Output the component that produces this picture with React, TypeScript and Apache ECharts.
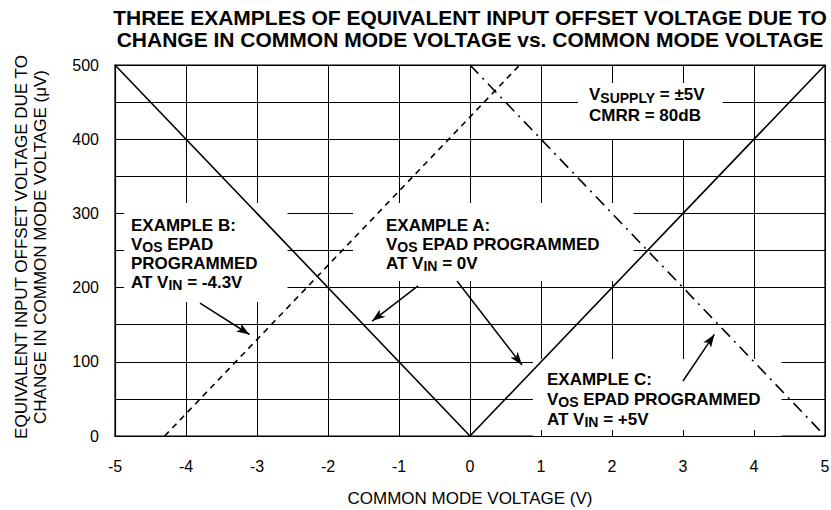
import React, { useEffect, useRef } from "react";
import * as echarts from "echarts";

// ---- data ----
const xMin = -5;
const xMax = 5;
const yMin = 0;
const yMax = 500;
const yLabelValues = [0, 100, 200, 300, 400, 500];

// Example A: EPAD programmed at VIN = 0V
const exampleA = [
  [-5, 500],
  [0, 0],
  [5, 500],
];
// Example B: EPAD programmed at VIN = -4.3V
const exampleB = [
  [-4.3, 0],
  [0.7, 500],
];
// Example C: EPAD programmed at VIN = +5V
const exampleC = [
  [0, 500],
  [5, 0],
];

// annotation arrows [x1, y1, x2, y2] in data units
const arrows = [
  [-3.803, 179.2, -3.106, 136.8],
  [-0.732, 202.2, -1.378, 154.9],
  [-0.183, 208.9, 0.732, 95.8],
  [3.0, 74.1, 3.442, 136.9],
];

const titleText =
  "THREE EXAMPLES OF EQUIVALENT INPUT OFFSET VOLTAGE DUE TO\nCHANGE IN COMMON MODE VOLTAGE vs. COMMON MODE VOLTAGE";
const xName = "COMMON MODE VOLTAGE (V)";
const yName =
  "EQUIVALENT INPUT OFFSET VOLTAGE DUE TO\nCHANGE IN COMMON MODE VOLTAGE (\u03bcV)";

const FONT = "'Liberation Sans', Arial, Helvetica, sans-serif";

function richStyle(lh: number) {
  return {
    b: { fontSize: 17, fontWeight: "bold", fontFamily: FONT, fill: "#000", lineHeight: lh },
    s: {
      fontSize: 14,
      fontWeight: "bold",
      fontFamily: FONT,
      fill: "#000",
      lineHeight: 11,
      verticalAlign: "bottom",
    },
  };
}

export default function App() {
  const ref = useRef<HTMLDivElement>(null);

  useEffect(() => {
    if (!ref.current) return;
    const chart = echarts.init(ref.current, null, { renderer: "svg" });

    const lineSeries = (name: string, data: number[][], type: any, extra: any = {}) => ({
      name,
      type: "line",
      data,
      symbol: "none",
      xAxisIndex: 0,
      yAxisIndex: 0,
      z: 2,
      silent: true,
      lineStyle: { color: "#000", width: 1.6, type },
      ...extra,
    });

    const option: any = {
      animation: false,
      grid: {
        left: 115,
        right: 6,
        top: 65,
        bottom: 74,
        show: true,
        borderColor: "#000",
        borderWidth: 1.2,
        backgroundColor: "transparent",
        outerBoundsMode: "none",
      },
      xAxis: [
        {
          type: "value",
          min: xMin,
          max: xMax,
          interval: 1,
          position: "bottom",
          z: 0,
          axisLine: { show: false },
          axisTick: { show: false },
          axisLabel: { color: "#000", fontSize: 16, fontFamily: FONT, margin: 22 },
          splitLine: { show: true, lineStyle: { color: "#000", width: 1 } },
        },
        {
          type: "value",
          min: xMin,
          max: xMax,
          interval: 1,
          position: "bottom",
          z: 10,
          axisLine: { show: true, onZero: false, lineStyle: { color: "#000", width: 1.2 } },
          axisTick: { show: true, inside: true, length: 6, lineStyle: { color: "#000", width: 1 } },
          axisLabel: { show: false },
          splitLine: { show: false },
        },
      ],
      yAxis: [
        {
          type: "value",
          min: yMin,
          max: yMax,
          interval: 50,
          position: "left",
          z: 0,
          axisLine: { show: false },
          axisTick: { show: false },
          axisLabel: {
            color: "#000",
            fontSize: 16,
            fontFamily: FONT,
            margin: 16,
            formatter: (v: number) => (yLabelValues.indexOf(v) >= 0 ? String(v) : ""),
          },
          splitLine: { show: true, lineStyle: { color: "#000", width: 1 } },
        },
        {
          type: "value",
          min: yMin,
          max: yMax,
          interval: 50,
          position: "left",
          z: 10,
          axisLine: { show: true, onZero: false, lineStyle: { color: "#000", width: 1.2 } },
          axisTick: { show: true, inside: true, length: 9, lineStyle: { color: "#000", width: 1 } },
          axisLabel: { show: false },
          splitLine: { show: false },
        },
      ],
      series: [
        lineSeries("Example A", exampleA, "solid", {
          markLine: {
            silent: true,
            symbol: ["none", "arrow"],
            symbolSize: [7, 13],
            label: { show: false },
            lineStyle: { color: "#000", width: 1.5, type: "solid" },
            emphasis: { disabled: true },
            data: arrows.map((a) => [{ coord: [a[0], a[1]] }, { coord: [a[2], a[3]] }]),
          },
        }),
        lineSeries("Example B", exampleB, [6, 5]),
        lineSeries("Example C", exampleC, [12, 6, 2, 6]),
      ],
      graphic: [
        {
          type: "text",
          x: 470,
          y: 28.75,
          z: 1,
          style: {
            text: titleText,
            fontSize: 21,
            fontWeight: "bold",
            fontFamily: FONT,
            fill: "#000",
            align: "center",
            verticalAlign: "middle",
            lineHeight: 22,
          },
        },
        {
          type: "text",
          x: 470,
          y: 498,
          z: 1,
          style: {
            text: xName,
            fontSize: 17,
            fontFamily: FONT,
            fill: "#000",
            align: "center",
            verticalAlign: "middle",
          },
        },
        {
          type: "text",
          x: 30.5,
          y: 247,
          rotation: Math.PI / 2,
          z: 1,
          style: {
            text: yName,
            fontSize: 17,
            fontFamily: FONT,
            fill: "#000",
            align: "center",
            verticalAlign: "middle",
            lineHeight: 19,
          },
        },
        {
          type: "text",
          x: 578,
          y: 83,
          z: 1,
          style: {
            text: "{b|V}{s|SUPPLY}{b| = \u00b15V}\n{b|CMRR = 80dB}",
            rich: richStyle(21),
            backgroundColor: "#fff",
            padding: [1, 18, 13, 11],
            align: "left",
            verticalAlign: "top",
          },
        },
        {
          type: "text",
          x: 123,
          y: 203,
          z: 1,
          style: {
            text: "{b|EXAMPLE B:}\n{b|V}{s|OS}{b| EPAD}\n{b|PROGRAMMED}\n{b|AT V}{s|IN}{b| = -4.3V}",
            rich: richStyle(19),
            backgroundColor: "#fff",
            padding: [13, 30, 10, 8],
            align: "left",
            verticalAlign: "top",
          },
        },
        {
          type: "text",
          x: 353,
          y: 203,
          z: 1,
          style: {
            text: "{b|EXAMPLE A:}\n{b|V}{s|OS}{b| EPAD PROGRAMMED}\n{b|AT V}{s|IN}{b| = 0V}",
            rich: richStyle(19),
            backgroundColor: "#fff",
            padding: [13, 34, 8, 33],
            align: "left",
            verticalAlign: "top",
          },
        },
        {
          type: "text",
          x: 533,
          y: 359,
          z: 1,
          style: {
            text: "{b|EXAMPLE C:}\n{b|V}{s|OS}{b| EPAD PROGRAMMED}\n{b|AT V}{s|IN}{b| = +5V}",
            rich: richStyle(20),
            backgroundColor: "#fff",
            padding: [10, 21, 7, 14],
            align: "left",
            verticalAlign: "top",
          },
        },
      ],
    };

    chart.setOption(option);
    return () => chart.dispose();
  }, []);

  return (
    <div
      ref={ref}
      style={{ position: "fixed", left: 0, top: 0, width: 831, height: 510, background: "#fff" }}
    />
  );
}
